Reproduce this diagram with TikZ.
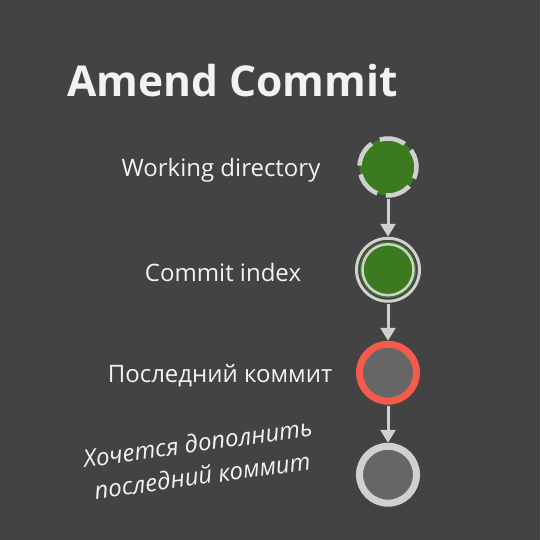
\documentclass[tikz,border=0pt]{standalone}
\usepackage{fontspec}
\setmainfont{Open Sans}
\usepackage{tikz}
\usetikzlibrary{arrows.meta,positioning}

\definecolor{bgdark}{HTML}{434343}
\definecolor{ringgray}{HTML}{D0D0D0}
\definecolor{nodegray}{HTML}{666666}
\definecolor{wdgreen}{HTML}{3B7A1E}
\definecolor{headred}{HTML}{F55A4A}
\definecolor{txtwhite}{HTML}{F2F2F2}

\begin{document}
\begin{tikzpicture}[x=1pt,y=-1pt,>={Triangle[width=15pt,length=13pt]},node distance=38pt]
	\tikzstyle{ring}=[circle,inner sep=0pt,line width=3pt]
	\tikzstyle{lbl}=[text=txtwhite,font=\fontsize{24}{28}\selectfont,anchor=center]
	\tikzstyle{link}=[->,line width=3pt,draw=ringgray,shorten <=1pt]
	\fill[bgdark] (0,0) rectangle (540,540);
	\useasboundingbox (0,0) rectangle (540,540);

	\node[anchor=base west,text=txtwhite,font=\fontsize{42.5}{46}\selectfont\bfseries] (title) at (64,97) {Amend Commit};

	% the four states, top to bottom
	\node[ring,draw=ringgray,fill=wdgreen,minimum size=57pt,line width=4.5pt,dash pattern=on 26pt off 9pt,dash phase=8pt] (wd) at (388,167) {};
	\node[ring,draw=ringgray,minimum size=63pt,below=39pt of wd] (idx) {};
	\node[ring,draw=wdgreen,double=ringgray,double distance=2.5pt,line width=1.5pt,fill=wdgreen,minimum size=51pt] (idxin) at (idx.center) {};
	\node[ring,draw=headred,fill=nodegray,minimum size=57pt,line width=7pt,below=of idx] (head) {};
	\node[ring,draw=ringgray,fill=nodegray,minimum size=57pt,line width=7pt,below=of head] (prev) {};

	\node[lbl,left=167pt of wd.center,anchor=center,yshift=-3pt] (wdlbl) {Working directory};
	\node[lbl,left=165pt of idx.center,anchor=center,yshift=-3pt] (idxlbl) {Commit index};
	\node[lbl,left=168pt of head.center,anchor=center,yshift=-3pt] (headlbl) {Последний коммит};
	\node[lbl,align=center,rotate=8,font=\fontsize{24}{33}\selectfont\itshape] (wish) at (200,459) {Хочется дополнить\\последний коммит};

	\draw[link] (wd) -- (idx);
	\draw[link] (idx) -- (head);
	\draw[link] (head) -- (prev);
\end{tikzpicture}
\end{document}
